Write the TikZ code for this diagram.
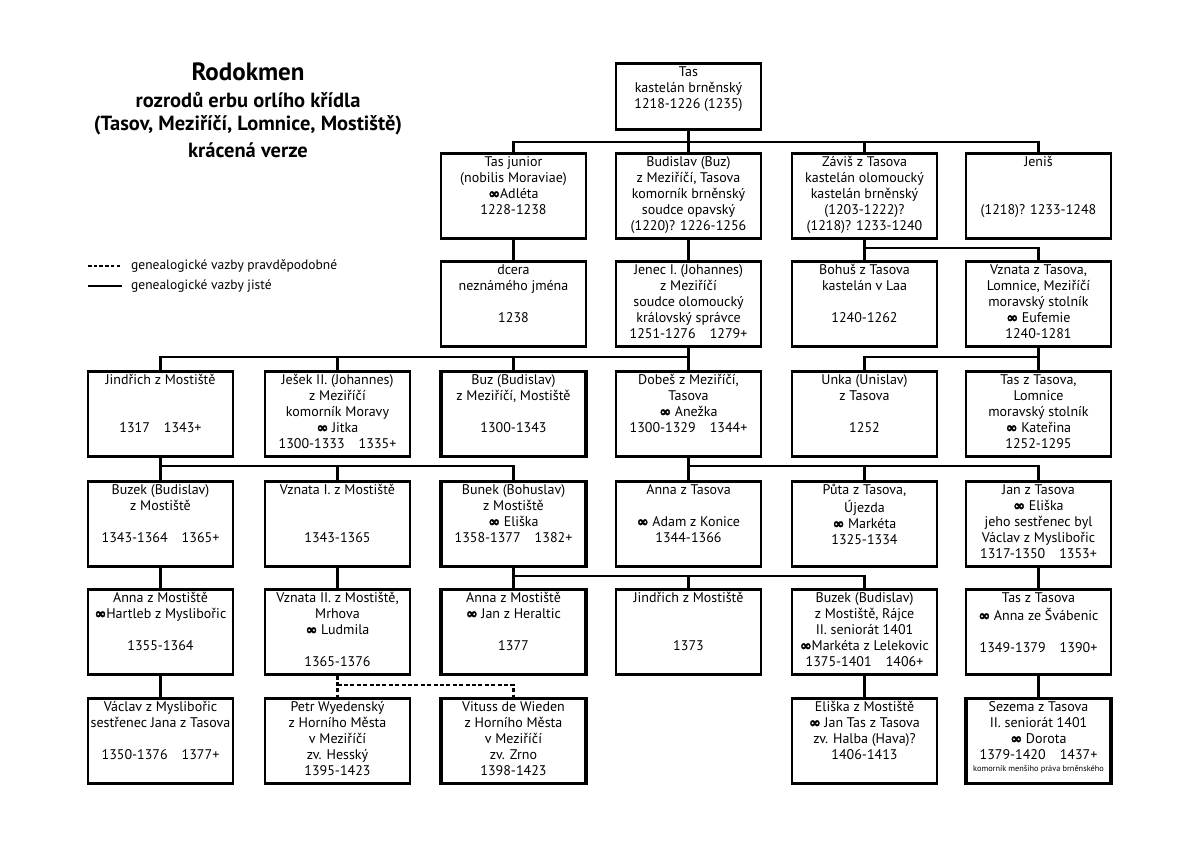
\documentclass[tikz,border=0pt]{standalone}
\usepackage{fontspec}
\setmainfont{PT Sans}
\newfontfamily\dvsb[FakeBold=2.5]{DejaVu Sans Bold}
\newcommand{\manz}{{\dvsb\fontsize{14}{16}\selectfont ∞}}
\tikzset{
  box/.style={draw=black, line width=2.6pt, minimum width=145pt, minimum height=85pt, inner sep=0pt, anchor=north},
  heavy/.style={line width=3.4pt},
  txt/.style={anchor=north, align=center, inner sep=0pt, font=\fontsize{14}{16}\selectfont},
  conn/.style={draw=black, line width=2.5pt},
  dconn/.style={draw=black, line width=2.5pt, dash pattern=on 4pt off 2.4pt},
  ttl/.style={font=\fontsize{20.5}{24}\selectfont\bfseries, inner sep=0pt},
  leg/.style={anchor=west, font=\fontsize{13.5}{15}\selectfont, inner sep=0pt}
}
\newcommand{\person}[5][]{%
  \node[box,#1] (#2) at (#3,#4) {};
  \node[txt] (#2-t) at (#3,#4+3) {\strut #5};
}
\begin{document}
\begin{tikzpicture}[x=1pt,y=-1pt]
\path[use as bounding box, fill=white] (0,0) rectangle (1200,843);
% title
\node[ttl, font=\fontsize{25}{28}\selectfont\bfseries] (t1) at (248,72) {Rodokmen};
\node[ttl] (t2) at (248,100) {rozrodů erbu orlího křídla};
\node[ttl] (t3) at (248,125) {(Tasov, Meziříčí, Lomnice, Mostiště)};
\node[ttl] (t4) at (248,150) {krácená verze};
% legend
\coordinate (l1a) at (88,266); \coordinate (l1b) at (122,266);
\coordinate (l2a) at (88,286); \coordinate (l2b) at (122,286);
\draw[dconn, dash pattern=on 3.5pt off 2.2pt] (l1a) -- (l1b);
\draw[conn] (l2a) -- (l2b);
\node[leg] (l1t) at (131,266) {genealogické vazby pravděpodobné};
\node[leg] (l2t) at (131,286) {genealogické vazby jisté};
% row 0
\person[minimum height=66pt]{tas}{688.5}{62}{Tas\\kastelán brněnský\\1218-1226 (1235)}
% row 1
\person{tasjr}{513.5}{152}{Tas junior\\(nobilis Moraviae)\\\manz Adléta\\1228-1238}
\person{budislav}{688.5}{152}{Budislav (Buz)\\z Meziříčí, Tasova\\komorník brněnský\\soudce opavský\\(1220)? 1226-1256}
\person{zavis}{864.5}{152}{Záviš z Tasova\\kastelán olomoucký\\kastelán brněnský\\(1203-1222)?\\(1218)? 1233-1240}
\person{jenis}{1038.5}{152}{Jeniš\\~\\~\\(1218)? 1233-1248}
% row 2
\person{dcera}{513.5}{260}{dcera\\neznámého jména\\~\\1238}
\person{jenec}{688.5}{260}{Jenec I. (Johannes)\\z Meziříčí\\soudce olomoucký\\královský správce\\1251-1276\quad 1279+}
\person{bohus}{864.5}{260}{Bohuš z Tasova\\kastelán v Laa\\~\\1240-1262}
\person{vznata}{1038.5}{260}{Vznata z Tasova,\\Lomnice, Meziříčí\\moravský stolník\\\manz{} Eufemie\\1240-1281}
% row 3
\person{jindrich}{160.5}{370}{Jindřich z Mostiště\\~\\~\\1317\quad 1343+}
\person{jesek}{337.5}{370}{Ješek II. (Johannes)\\z Meziříčí\\komorník Moravy\\\manz{} Jitka\\1300-1333\quad 1335+}
\person[heavy]{buz}{513.5}{370}{Buz (Budislav)\\z Meziříčí, Mostiště\\~\\1300-1343}
\person{dobes}{688.5}{370}{Dobeš z Meziříčí,\\Tasova\\\manz{} Anežka\\1300-1329\quad 1344+}
\person{unka}{864.5}{370}{Unka (Unislav)\\z Tasova\\~\\1252}
\person{tasc}{1038.5}{370}{Tas z Tasova,\\Lomnice\\moravský stolník\\\manz{} Kateřina\\1252-1295}
% row 4
\person{buzek}{160.5}{480}{Buzek (Budislav)\\z Mostiště\\~\\1343-1364\quad 1365+}
\person{vznataa}{337.5}{480}{Vznata I. z Mostiště\\~\\~\\1343-1365}
\person[heavy]{bunek}{513.5}{480}{Bunek (Bohuslav)\\z Mostiště\\\manz{} Eliška\\1358-1377\quad 1382+}
\person{annat}{688.5}{480}{Anna z Tasova\\~\\\manz{} Adam z Konice\\1344-1366}
\person{puta}{864.5}{480}{Půta z Tasova,\\Újezda\\\manz{} Markéta\\1325-1334}
\person{jan}{1038.5}{480}{Jan z Tasova\\\manz{} Eliška\\jeho sestřenec byl\\Václav z Myslibořic\\1317-1350\quad 1353+}
% row 5
\person{annam}{160.5}{588}{Anna z Mostiště\\\manz Hartleb z Myslibořic\\~\\1355-1364}
\person{vznatab}{337.5}{588}{Vznata II. z Mostiště,\\Mrhova\\\manz{} Ludmila\\~\\1365-1376}
\person[heavy]{annamb}{513.5}{588}{Anna z Mostiště\\\manz{} Jan z Heraltic\\~\\1377}
\person{jindrichb}{688.5}{588}{Jindřich z Mostiště\\~\\~\\1373}
\person{buzekb}{864.5}{588}{Buzek (Budislav)\\z Mostiště, Rájce\\II. seniorát 1401\\\manz Markéta z Lelekovic\\1375-1401\quad 1406+}
\person{tase}{1038.5}{588}{Tas z Tasova\\\manz{} Anna ze Švábenic\\~\\1349-1379\quad 1390+}
% row 6
\person{vaclav}{160.5}{697}{Václav z Myslibořic\\sestřenec Jana z Tasova\\~\\1350-1376\quad 1377+}
\person{petr}{337.5}{697}{Petr Wyedenský\\z Horního Města\\v Meziříčí\\zv. Hesský\\1395-1423}
\person[heavy]{vitus}{513.5}{697}{Vituss de Wieden\\z Horního Města\\v Meziříčí\\zv. Zrno\\1398-1423}
\person{eliska}{864.5}{697}{Eliška z Mostiště\\\manz{} Jan Tas z Tasova\\zv. Halba (Hava)?\\1406-1413}
\person[heavy]{sezema}{1038.5}{697}{Sezema z Tasova\\II. seniorát 1401\\\manz{} Dorota\\1379-1420\quad 1437+\\[-4pt]{\fontsize{8.3}{9}\selectfont komorník menšího práva brněnského}}
% bars
\coordinate (y1) at (0,142);
\coordinate (y2) at (0,248);
\coordinate (y3) at (0,357);
\coordinate (y4) at (0,466);
\coordinate (y5) at (0,576);
\coordinate (y6) at (0,685);
% connectors
\draw[conn] (tas.south) -- (budislav.north);
\draw[conn] (tasjr.north) |- (y1 -| jenis.north) -- (jenis.north);
\draw[conn] (zavis.north) -- (zavis.north |- y1);
\draw[conn] (tasjr.south) -- (dcera.north);
\draw[conn] (budislav.south) -- (jenec.north);
\draw[conn] (zavis.south) -- (bohus.north);
\draw[conn] (zavis.south |- y2) -| (vznata.north);
\draw[conn] (jenec.south) -- (dobes.north);
\draw[conn] (jindrich.north) |- (y3 -| dobes.north);
\draw[conn] (jesek.north) -- (jesek.north |- y3);
\draw[conn] (buz.north) -- (buz.north |- y3);
\draw[conn] (vznata.south) -- (tasc.north);
\draw[conn] (unka.north) |- (y3 -| tasc.north);
\draw[conn] (jindrich.south) -- (buzek.north);
\draw[conn] (buzek.north |- y4) -| (bunek.north);
\draw[conn] (vznataa.north) -- (vznataa.north |- y4);
\draw[conn] (dobes.south) -- (annat.north);
\draw[conn] (annat.north |- y4) -| (jan.north);
\draw[conn] (puta.north) -- (puta.north |- y4);
\draw[conn] (buzek.south) -- (annam.north);
\draw[conn] (vznataa.south) -- (vznatab.north);
\draw[conn] (bunek.south) -- (annamb.north);
\draw[conn] (annamb.north |- y5) -| (buzekb.north);
\draw[conn] (jindrichb.north) -- (jindrichb.north |- y5);
\draw[conn] (jan.south) -- (tase.north);
\draw[conn] (annam.south) -- (vaclav.north);
\draw[dconn] (vznatab.south) -- (petr.north);
\draw[dconn] (vznatab.south |- y6) -| (vitus.north);
\draw[conn] (buzekb.south) -- (eliska.north);
\draw[conn] (tase.south) -- (sezema.north);
\end{tikzpicture}
\end{document}
